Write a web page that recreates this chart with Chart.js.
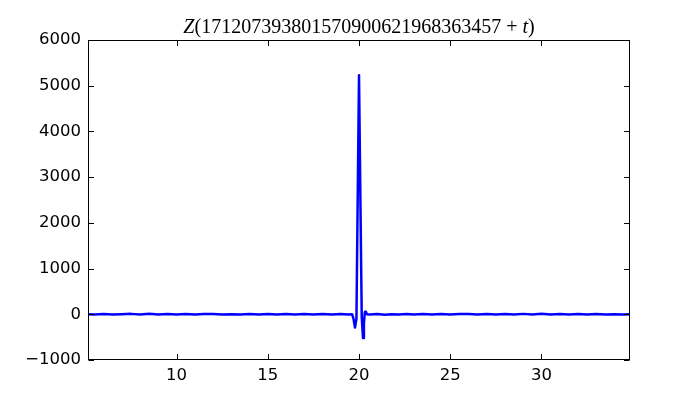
<!DOCTYPE html>
<html>
<head>
<meta charset="utf-8">
<script src="https://cdn.jsdelivr.net/npm/chart.js@4.4.1/dist/chart.umd.min.js"></script>
<style>
  html, body { margin: 0; padding: 0; background: #fff; }
  canvas { display: block; }
</style>
</head>
<body>
<canvas id="chart" width="700" height="400"></canvas>
<script>
// Values (t offset, Z value)
var tValues = [
  5.15, 5.5, 6.0, 6.5, 7.0, 7.5, 8.0, 8.5, 9.0, 9.5, 10.0, 10.5, 11.0, 11.5,
  12.0, 12.5, 13.0, 13.5, 14.0, 14.5, 15.0, 15.5, 16.0, 16.5, 17.0, 17.5,
  18.0, 18.5, 19.0, 19.4, 19.62,
  19.70, 19.78, 19.86, 20.00, 20.15, 20.22, 20.27, 20.32, 20.37, 20.43,
  20.6, 21.0, 21.4, 21.8, 22.2, 22.6, 23.0, 23.5, 24.0, 24.5, 25.0, 25.5,
  26.0, 26.5, 27.0, 27.5, 28.0, 28.5, 29.0, 29.5, 30.0, 30.5, 31.0, 31.5,
  32.0, 32.5, 33.0, 33.5, 34.0, 34.5, 34.85
];
var zValues = [
  2, -3, 4, -2, 3, 9, -4, 10, -3, 5, -6, 7, -3, 4,
  8, -5, 3, -2, 6, -4, 6, -3, 4, -4, 5, -3,
  6, -3, 4, -5, 2,
  -100, -290, -100, 5230, -60, -520, -200, 50, 60, 0,
  -4, 5, -10, 3, -3, 6, -4, 4, -3, 6, -5, 4,
  6, -3, 7, -4, 5, -6, 9, -4, 10, -3, 6, -4,
  4, -3, 5, -2, 3, -3, 2
];
var xTicks = [10, 15, 20, 25, 30];
var yTicks = [-1000, 0, 1000, 2000, 3000, 4000, 5000, 6000];
var xMin = 5.15, xMax = 34.85;
var yMin = -1000, yMax = 6000;

var points = tValues.map(function (t, i) { return { x: t, y: zValues[i] }; });

// Frame, inward ticks on all four sides, and the mixed-style title
var framePlugin = {
  id: 'frame',
  afterDraw: function (chart) {
    var ctx = chart.ctx;
    var a = chart.chartArea;
    var xs = chart.scales.x, ys = chart.scales.y;
    var L = Math.round(a.left) + 0.5, R = Math.round(a.right) - 0.5;
    var T = Math.round(a.top) + 0.5, B = Math.round(a.bottom) - 0.5;
    var len = 5.5;
    ctx.save();
    ctx.strokeStyle = '#000';
    ctx.lineWidth = 1;
    ctx.beginPath();
    xTicks.forEach(function (v) {
      var px = Math.round(xs.getPixelForValue(v)) + 0.5;
      ctx.moveTo(px, B); ctx.lineTo(px, B - len);
      ctx.moveTo(px, T); ctx.lineTo(px, T + len);
    });
    yTicks.forEach(function (v) {
      var py = Math.round(ys.getPixelForValue(v)) + 0.5;
      ctx.moveTo(L, py); ctx.lineTo(L + len, py);
      ctx.moveTo(R, py); ctx.lineTo(R - len, py);
    });
    ctx.stroke();
    ctx.strokeRect(L, T, R - L, B - T);

    // title: Z(171207393801570900621968363457 + t)
    var parts = [
      { text: 'Z', font: 'italic 20px "Liberation Serif"' },
      { text: '(171207393801570900621968363457', font: '20px "Liberation Serif"' },
      { text: ' + ', font: '20px "Liberation Serif"' },
      { text: 't', font: 'italic 20px "Liberation Serif"' },
      { text: ')', font: '20px "Liberation Serif"' }
    ];
    var total = 0;
    parts.forEach(function (p) { ctx.font = p.font; p.w = ctx.measureText(p.text).width; total += p.w; });
    var x = (a.left + a.right) / 2 - total / 2;
    ctx.fillStyle = '#000';
    ctx.textBaseline = 'alphabetic';
    ctx.textAlign = 'left';
    parts.forEach(function (p) { ctx.font = p.font; ctx.fillText(p.text, x, 33); x += p.w; });
    ctx.restore();
  }
};

var tickFont = { family: '"DejaVu Sans"', size: 16.5 };

new Chart(document.getElementById('chart'), {
  type: 'line',
  data: {
    datasets: [{
      data: points,
      borderColor: '#0000ff',
      borderWidth: 2.5,
      borderJoinStyle: 'round',
      borderCapStyle: 'round',
      pointRadius: 0,
      tension: 0,
      fill: false
    }]
  },
  options: {
    responsive: false,
    animation: false,
    devicePixelRatio: 1,
    layout: { padding: { left: 0, top: 40, right: 70, bottom: 0 } },
    plugins: { legend: { display: false }, tooltip: { enabled: false } },
    scales: {
      x: {
        type: 'linear',
        min: xMin,
        max: xMax,
        grid: { display: false, drawTicks: false },
        border: { display: false },
        afterBuildTicks: function (s) { s.ticks = xTicks.map(function (v) { return { value: v }; }); },
        afterFit: function (s) { s.height = 40; },
        ticks: {
          color: '#000',
          font: tickFont,
          padding: 6,
          maxRotation: 0,
          autoSkip: false,
          callback: function (v) { return String(v); }
        }
      },
      y: {
        type: 'linear',
        min: yMin,
        max: yMax,
        grid: { display: false, drawTicks: false },
        border: { display: false },
        afterBuildTicks: function (s) { s.ticks = yTicks.map(function (v) { return { value: v }; }); },
        afterFit: function (s) { s.width = 88; },
        ticks: {
          color: '#000',
          font: tickFont,
          padding: 7,
          autoSkip: false,
          callback: function (v) { return v < 0 ? '\u2212' + Math.abs(v) : String(v); }
        }
      }
    }
  },
  plugins: [framePlugin]
});
</script>
</body>
</html>
